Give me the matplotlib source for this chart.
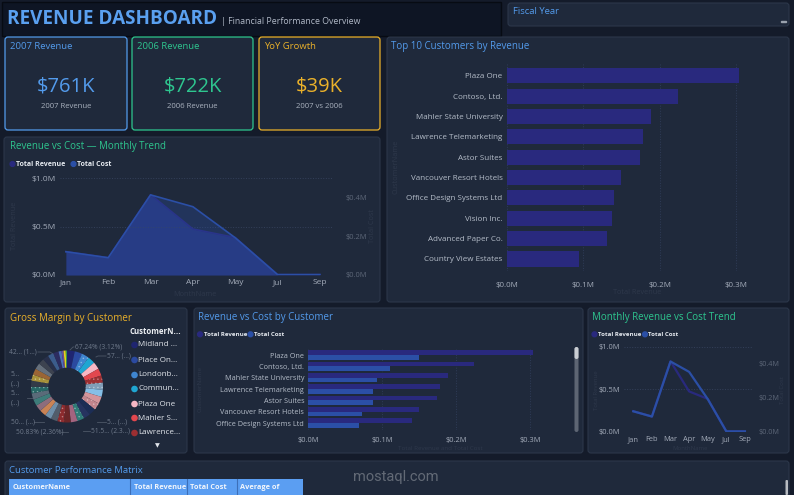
import matplotlib
matplotlib.use('Agg')
import matplotlib.pyplot as plt
import matplotlib.colors as mcolors
from matplotlib.patches import FancyBboxPatch, Rectangle, Circle

plt.rcParams['font.family'] = ['Open Sans', 'DejaVu Sans']
plt.rcParams['hatch.linewidth'] = 0.5

# -------------------------------------------
# Data
# -------------------------------------------
kpi_titles = ['2007 Revenue', '2006 Revenue', 'YoY Growth']
kpi_values = ['$761K', '$722K', '$39K']
kpi_notes = ['2007 Revenue', '2006 Revenue', '2007 vs 2006']

months = ['Jan', 'Feb', 'Mar', 'Apr', 'May', 'Jul', 'Sep']
month_revenue = [0.241, 0.179, 0.828, 0.474, 0.386, 0.004, 0.004]   # $M
month_cost = [0.120, 0.089, 0.413, 0.352, 0.192, 0.002, 0.002]      # $M

top_customers = ['Plaza One', 'Contoso, Ltd.', 'Mahler State University',
                 'Lawrence Telemarketing', 'Astor Suites', 'Vancouver Resort Hotels',
                 'Office Design Systems Ltd', 'Vision Inc.', 'Advanced Paper Co.',
                 'Country View Estates']
top_revenue = [0.304, 0.224, 0.189, 0.178, 0.174, 0.150, 0.140, 0.138, 0.131, 0.095]
shown_cost = [0.150, 0.110, 0.093, 0.087, 0.087, 0.073, 0.069]   # first 7 customers

margin_share = [3.12, 3.05, 3.00, 2.98, 2.95, 2.93, 2.90, 2.88, 2.86, 2.85,
                2.83, 2.80, 2.78, 2.76, 2.74, 2.72, 2.70, 2.68, 2.66, 2.64,
                2.62, 2.60, 2.58, 2.56, 2.54, 2.52, 2.50, 2.45, 2.40, 2.36,
                2.30, 2.20, 1.20, 0.80, 0.90, 0.50]
margin_colors = ['#1f2570', '#2b4aa0', '#3f86d0', '#1fa6d2', '#f7b7c4', '#e2474e',
                 '#9c2f32', '#7f9cb6', '#86bfe6', '#d4949a', '#c2848c', '#1c2d55',
                 '#26335f', '#2f7b77', '#a3647f', '#6b2527', '#8c2b2e', '#525d6b',
                 '#6f8fa9', '#c98355', '#8d6d7d', '#3e7c7a', '#5a6b79', '#276866',
                 '#333b48', '#a8923a', '#9a6535', '#66707c', '#3d4350', '#28304a',
                 '#3b5c8c', '#2c2c60', '#4b6eb8', '#6a4c9c', '#e4d21e', '#3a9b46']
hatched = [2, 6, 7, 10, 13, 16, 23, 25]
legend_names = ['Midland ...', 'Place On...', 'Londonb...', 'Commun...',
                'Plaza One', 'Mahler S...', 'Lawrence...']
donut_labels = ['67.24% (3.12%)', '57... (...)', '42... (1...)', '5...\n(...)',
                '5...\n(...)', '50... (...)', '50.83% (2.36%)', '51.5... (2.3...)',
                '5... (...)']

matrix_cols = ['CustomerName', 'Total Revenue', 'Total Cost', 'Average of']

# -------------------------------------------
# Colours
# -------------------------------------------
PAGE = '#141b2a'
PANEL = '#1f293b'
EDGE = '#2c374a'
HEADER = '#0e1524'
BLUE = '#539bec'
GREEN = '#2ec68f'
AMBER = '#eab12a'
REV_C = '#29297e'
COST_C = '#2b4fa6'
TICK = '#a3abb9'
DIM = '#5d6778'
FAINT = '#2e384b'

W, H = 794, 495
fig = plt.figure(figsize=(W / 100, H / 100), dpi=100, facecolor=PAGE)

# background axes in pixel coordinates
bg = fig.add_axes([0, 0, 1, 1])
bg.set_xlim(0, W)
bg.set_ylim(H, 0)
bg.axis('off')


def panel(x0, y0, x1, y1, fc=PANEL, ec=EDGE, lw=0.8):
    bg.add_patch(FancyBboxPatch((x0, y0), x1 - x0, y1 - y0,
                                boxstyle='round,pad=0,rounding_size=3',
                                fc=fc, ec=ec, lw=lw))


def px_axes(x0, y0, x1, y1):
    ax = fig.add_axes([x0 / W, 1 - y1 / H, (x1 - x0) / W, (y1 - y0) / H])
    ax.set_facecolor('none')
    for s in ax.spines.values():
        s.set_visible(False)
    ax.tick_params(length=0)
    return ax


def money(v, d=1):
    return f'${v:.{d}f}M'


def legend_row(x, y, gap, fs):
    bg.add_patch(Circle((x, y), 2.4, color=REV_C))
    bg.text(x + 3.5, y, 'Total Revenue', color='#e6eaf0', fontsize=fs,
            fontweight='bold', va='center')
    bg.add_patch(Circle((x + gap, y), 2.4, color=COST_C))
    bg.text(x + gap + 3.5, y, 'Total Cost', color='#e6eaf0', fontsize=fs,
            fontweight='bold', va='center')


# -------------------------------------------
# Header + slicer
# -------------------------------------------
bg.add_patch(Rectangle((2, 2), 499, 34, fc=HEADER, ec='#070b13', lw=1))
bg.text(7, 19, 'REVENUE DASHBOARD', color='#5aa0f0', fontsize=13.6,
        fontweight='bold', va='center')
bg.text(221, 21.5, '| Financial Performance Overview', color='#b0b8c6',
        fontsize=6.3, va='center')

panel(508, 3, 789, 26)
bg.text(513, 12, 'Fiscal Year', color=BLUE, fontsize=6.8, va='center')
bg.add_patch(Rectangle((781, 20.5), 5, 1.5, color='#9aa2ae'))

# -------------------------------------------
# KPI cards
# -------------------------------------------
kpi_boxes = [(5, 37, 127, 130), (132, 37, 253, 130), (259, 37, 380, 130)]
kpi_colors = [BLUE, GREEN, AMBER]
for (x0, y0, x1, y1), t, v, n, c in zip(kpi_boxes, kpi_titles, kpi_values,
                                        kpi_notes, kpi_colors):
    panel(x0, y0, x1, y1, ec=c, lw=0.9)
    bg.text(x0 + 5, 46.5, t, color=c, fontsize=6.8, va='center')
    bg.text((x0 + x1) / 2, 86.5, v, color=c, fontsize=14.5, ha='center',
            va='center')
    bg.text((x0 + x1) / 2, 106.5, n, color='#a9b1be', fontsize=5.6,
            ha='center', va='center')

# -------------------------------------------
# Revenue vs Cost - Monthly Trend (area)
# -------------------------------------------
panel(4, 137, 380, 302)
bg.text(10, 146.5, 'Revenue vs Cost \u2014 Monthly Trend', color=GREEN,
        fontsize=7.0, va='center')
legend_row(12.5, 164, 61, 5.0)
bg.text(15, 226, 'Total Revenue', color=FAINT, fontsize=5.2, rotation=90,
        ha='center', va='center')
bg.text(372, 226, 'Total Cost', color=FAINT, fontsize=5.2, rotation=90,
        ha='center', va='center')
bg.text(195, 294, 'MonthName', color=FAINT, fontsize=5.2, ha='center',
        va='center')

x = list(range(len(months)))
ax = px_axes(60, 178, 333, 275)
ax.set_xlim(-0.14, 6.31)
ax.set_ylim(0, 1.0)
ax.fill_between(x, month_revenue, color='#263578', lw=0)
ax.plot(x, month_revenue, color=REV_C, lw=1.2)
ax.set_yticks([0, 0.5, 1.0])
ax.set_yticklabels([money(v) for v in [0, 0.5, 1.0]])
ax.set_xticks(x)
ax.set_xticklabels(months)
ax.tick_params(colors=TICK, labelsize=6, pad=3)
ax.grid(axis='y', color='#34405a', ls=':', lw=0.7)
ax2 = ax.twinx()
ax2.set_facecolor('none')
for s in ax2.spines.values():
    s.set_visible(False)
ax2.set_ylim(0, 0.5)
ax2.fill_between(x, month_cost, color=COST_C, alpha=0.3, lw=0)
ax2.plot(x, month_cost, color=COST_C, lw=1.2)
ax2.set_yticks([0, 0.2, 0.4])
ax2.set_yticklabels([money(v) for v in [0, 0.2, 0.4]])
ax2.tick_params(length=0, colors=DIM, labelsize=5.4, pad=9)

# -------------------------------------------
# Top 10 Customers by Revenue
# -------------------------------------------
panel(387, 37, 789, 302)
bg.text(391, 46.5, 'Top 10 Customers by Revenue', color=BLUE, fontsize=7.0,
        va='center')
bg.text(396, 167, 'CustomerName', color=FAINT, fontsize=5.2, rotation=90,
        ha='center', va='center')
bg.text(637, 293, 'Total Revenue', color=FAINT, fontsize=5.2, ha='center',
        va='center')

ax = px_axes(506.7, 63.6, 766.8, 271.2)
ax.barh(range(len(top_customers)), top_revenue, height=0.74, color=REV_C)
ax.set_xlim(0, 0.34)
ax.set_ylim(len(top_customers) - 0.4, -0.6)
ax.set_yticks(range(len(top_customers)))
ax.set_yticklabels(top_customers)
ax.set_xticks([0, 0.1, 0.2, 0.3])
ax.set_xticklabels([money(v) for v in [0, 0.1, 0.2, 0.3]])
ax.tick_params(axis='y', colors='#b5bdc9', labelsize=5.8, pad=3)
ax.tick_params(axis='x', colors=TICK, labelsize=5.8, pad=8)
ax.grid(axis='x', color='#2f3c58', ls=':', lw=0.7)
ax.set_axisbelow(True)

# -------------------------------------------
# Gross Margin by Customer (donut)
# -------------------------------------------
panel(5, 308, 187, 453)
bg.text(10, 318.3, 'Gross Margin by Customer', color=AMBER, fontsize=7.0,
        va='center')
ax = px_axes(27, 346.5, 107, 426.5)
wedges, _ = ax.pie(margin_share, colors=margin_colors, radius=0.9,
                   startangle=90, counterclock=False,
                   wedgeprops=dict(width=0.43, lw=0))
for i in hatched:
    base = mcolors.to_rgb(margin_colors[i])
    light = tuple(0.6 * b + 0.4 for b in base)
    wedges[i].set_hatch('....')
    wedges[i].set_edgecolor(light)
    wedges[i].set_linewidth(0)
ax.set_xlim(-1, 1)
ax.set_ylim(-1, 1)
ax.set_aspect('equal')

label_pos = [(75, 346.5, 'left'), (107, 356, 'left'), (37, 352, 'right'),
             (11, 379.5, 'left'), (11, 398.5, 'left'), (11, 422, 'left'),
             (16, 432, 'left'), (91, 431, 'left'), (107, 422, 'left')]
leader = [[(70, 350), (73, 347), (74, 347)], [(96, 357), (98, 356), (106, 356)],
          [(56, 356), (50, 352), (38, 352)], [(27, 379), (33, 379)],
          [(27, 398), (33, 398)], [(34, 421.5), (44, 421.5)],
          [(61, 432), (68, 432)], [(83, 431), (90, 431)],
          [(97, 421.5), (106, 421.5)]]
for (tx, ty, ha), txt, ln in zip(label_pos, donut_labels, leader):
    bg.text(tx, ty, txt, color='#6f7a8b', fontsize=4.8, ha=ha, va='center',
            linespacing=1.5)
    bg.plot([p[0] for p in ln], [p[1] for p in ln], color='#4d5767', lw=0.6)

bg.text(130, 332, 'CustomerN...', color='#eef1f5', fontsize=5.6,
        fontweight='bold', va='center')
leg_y = [345, 360, 375, 389, 404, 418, 433]
for yy, name, c in zip(leg_y, legend_names, margin_colors):
    bg.add_patch(Circle((134.5, yy), 2.6, color=c))
    bg.text(138.5, yy, name, color='#e2e6ec', fontsize=5.8, va='center')
bg.text(157, 446, '\u25bc', color='#e2e6ec', fontsize=4.5, ha='center',
        va='center', family=['DejaVu Sans'])

# -------------------------------------------
# Revenue vs Cost by Customer
# -------------------------------------------
panel(194, 308, 583, 453)
bg.text(197.5, 317.7, 'Revenue vs Cost by Customer', color=BLUE, fontsize=7.0,
        va='center')
legend_row(200, 334.3, 50.5, 4.4)
bg.text(200, 389, 'CustomerName', color=FAINT, fontsize=4.5, rotation=90,
        ha='center', va='center')
bg.text(440, 448, 'Total Revenue and Total Cost', color=FAINT, fontsize=4.5,
        ha='center', va='center')

n = len(shown_cost)
ax = px_axes(308.3, 348.2, 567.3, 429.8)
pos = list(range(n))
ax.barh([p - 0.2 for p in pos], top_revenue[:n], height=0.4, color=REV_C)
ax.barh([p + 0.2 for p in pos], shown_cost, height=0.4, color=COST_C)
ax.set_xlim(0, 0.35)
ax.set_ylim(n - 0.4, -0.6)
ax.set_yticks(pos)
ax.set_yticklabels(top_customers[:n])
ax.set_xticks([0, 0.1, 0.2, 0.3])
ax.set_xticklabels([money(v) for v in [0, 0.1, 0.2, 0.3]])
ax.tick_params(axis='y', colors='#b5bdc9', labelsize=5.2, pad=3)
ax.tick_params(axis='x', colors=TICK, labelsize=5.4, pad=5)
ax.grid(axis='x', color='#2f3c58', ls=':', lw=0.7)
ax.set_axisbelow(True)
bg.add_patch(FancyBboxPatch((574.5, 347), 4, 85, boxstyle='round,pad=0,rounding_size=2',
                            fc='#5d6573', lw=0))
bg.add_patch(FancyBboxPatch((574.5, 347), 4, 12, boxstyle='round,pad=0,rounding_size=2',
                            fc='#c9cdd3', lw=0))

# -------------------------------------------
# Monthly Revenue vs Cost Trend (lines)
# -------------------------------------------
panel(588, 308, 789, 453)
bg.text(592.5, 317.7, 'Monthly Revenue vs Cost Trend', color=GREEN,
        fontsize=7.0, va='center')
legend_row(594.5, 334.3, 50.5, 4.4)
bg.text(596, 390, 'Total Revenue', color=FAINT, fontsize=4.3, rotation=90,
        ha='center', va='center')
bg.text(782, 390, 'Total Cost', color=FAINT, fontsize=4.3, rotation=90,
        ha='center', va='center')
bg.text(690, 448, 'MonthName', color=FAINT, fontsize=4.3, ha='center',
        va='center')

ax = px_axes(624, 346.7, 752, 431.7)
ax.set_xlim(-0.5, 6.38)
ax.set_ylim(0, 1.0)
ax.plot(x, month_revenue, color=REV_C, lw=1.6)
ax.set_yticks([0, 0.5, 1.0])
ax.set_yticklabels([money(v) for v in [0, 0.5, 1.0]])
ax.set_xticks(x)
ax.set_xticklabels(months)
ax.tick_params(colors=TICK, labelsize=5.4, pad=3)
ax.grid(axis='y', color='#34405a', ls=':', lw=0.7)
ax2 = ax.twinx()
ax2.set_facecolor('none')
for s in ax2.spines.values():
    s.set_visible(False)
ax2.set_ylim(0, 0.5)
ax2.plot(x, month_cost, color=COST_C, lw=1.6)
ax2.set_yticks([0, 0.2, 0.4])
ax2.set_yticklabels([money(v) for v in [0, 0.2, 0.4]])
ax2.tick_params(length=0, colors=DIM, labelsize=5.2, pad=5)

# -------------------------------------------
# Customer Performance Matrix (header only visible)
# -------------------------------------------
panel(5, 461, 789, 505)
bg.text(9, 470.5, 'Customer Performance Matrix', color=BLUE, fontsize=6.8,
        va='center')
bg.add_patch(Rectangle((9, 479), 294, 17, fc='#5b9ef2', lw=0))
col_x = [13, 134, 190, 240]
for cx, name in zip(col_x, matrix_cols):
    bg.text(cx, 487.5, name, color='#f2f6fc', fontsize=5.3, fontweight='bold',
            va='center')
for sx in [130, 187.3, 236.7]:
    bg.plot([sx, sx], [479, 495], color='#3d6fb8', lw=0.8)
bg.add_patch(FancyBboxPatch((785.5, 480), 2.5, 15, boxstyle='round,pad=0,rounding_size=1',
                            fc='#b8bcc2', lw=0))

# watermark
fig.text(396 / W, 1 - 477 / H, 'mostaql.com', color='#6e7580', fontsize=10.5,
         ha='center', va='center', family=['Roboto', 'DejaVu Sans'], alpha=0.85)

fig.savefig('out.png', dpi=100, facecolor=PAGE)
